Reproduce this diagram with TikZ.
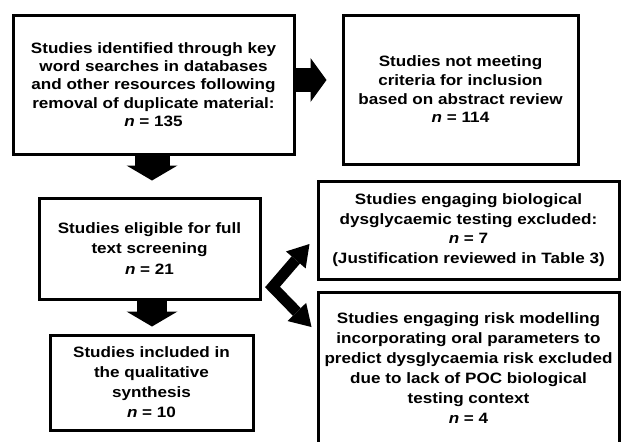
\documentclass[tikz,border=0pt]{standalone}
\usepackage{fontspec}
\setmainfont[FakeStretch=1.14]{Liberation Sans}
\usetikzlibrary{arrows.meta,calc}
\tikzset{
  box/.style={draw=black, line width=3pt, fill=white, align=center,
    inner sep=0pt, font=\bfseries\fontsize{15}{#1}\selectfont},
  box/.default=19,
  fatarrow/.style n args={3}{line width=#1pt,
    -{Triangle[width=#2pt,length=#3pt,line width=0pt]}},
}
\begin{document}
\begin{tikzpicture}[x=1pt,y=-1pt]
\useasboundingbox (0,0) rectangle (622,442);
\fill[white] (0,0) rectangle (622,442);
\clip (0,0) rectangle (622,442);

\node[box=18.3, minimum width=281, minimum height=139] (A) at (153.5,84.5)
  {Studies identified through key\\word searches in databases\\and other resources following\\removal of duplicate material:\\\textit{n} = 135};
\node[box=18.7, minimum width=235, minimum height=149] (B) at (460.5,89.5)
  {Studies not meeting\\criteria for inclusion\\based on abstract review\\\textit{n} = 114};
\node[box=20.5, minimum width=221, minimum height=101] (C) at (149.5,248.5)
  {Studies eligible for full\\text screening\\\textit{n} = 21};
\node[box=20, minimum width=203, minimum height=95] (D) at (151.5,382.5)
  {Studies included in\\the qualitative\\synthesis\\\textit{n} = 10};
\node[box=19.5, minimum width=301, minimum height=98] (E) at (468.5,230)
  {Studies engaging biological\\dysglycaemic testing excluded:\\\textit{n} = 7\\(Justification reviewed in Table 3)};
\node[box=20, minimum width=301, minimum height=152] (F) at (468.5,368)
  {Studies engaging risk modelling\\incorporating oral parameters to\\predict dysglycaemia risk excluded\\due to lack of POC biological\\testing context\\\textit{n} = 4};

% connectors
\draw[fatarrow={24}{44}{16}, shorten >=15pt]
  ([yshift=4.5pt]A.east) -- ([yshift=4.5pt]A.east -| B.west);
\draw[fatarrow={35}{51}{15}, shorten >=16pt]
  ([xshift=-1.5pt]A.south) -- ([xshift=-1.5pt]A.south |- C.north);
\draw[fatarrow={30}{51}{15}, shorten >=7pt]
  ([xshift=2.5pt]C.south) -- ([xshift=2.5pt]C.south |- D.north);

\coordinate (v) at ([xshift=11pt,yshift=-38.5pt]C.east);
\coordinate (t1) at ([xshift=-7pt,yshift=-14pt]E.west);
\coordinate (t2) at ([xshift=-5pt,yshift=41pt]F.west);
\draw[line width=11pt, line join=miter,
  {Triangle[width=26pt,length=21pt,line width=0pt]}-{Triangle[width=26pt,length=21pt,line width=0pt]}]
  (t1) -- (v) -- (t2);
\end{tikzpicture}
\end{document}
